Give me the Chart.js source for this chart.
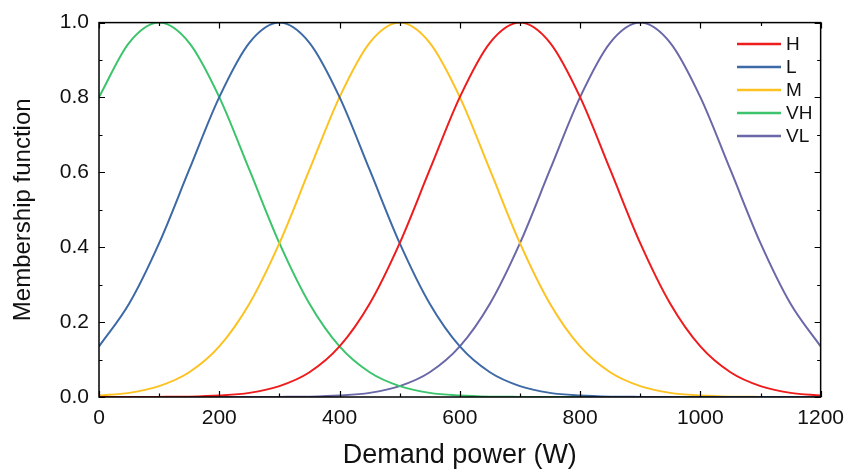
<!DOCTYPE html>
<html>
<head>
<meta charset="utf-8">
<script src="https://cdn.jsdelivr.net/npm/chart.js@4/dist/chart.umd.min.js"></script>
<style>
  html, body { margin: 0; padding: 0; background: #fff; }
  #wrap { width: 853px; height: 472px; }
</style>
</head>
<body>
<div id="wrap"><canvas id="c" width="853" height="472"></canvas></div>
<script>
// demand power (W), sampled every 50 W
const power = [0, 50, 100, 150, 200, 250, 300, 350, 400, 450, 500, 550, 600,
               650, 700, 750, 800, 850, 900, 950, 1000, 1050, 1100, 1150, 1200];

// membership values
const H  = [0, 0.0001, 0.0003, 0.001, 0.004, 0.011, 0.029, 0.066, 0.135, 0.249, 0.411, 0.607, 0.801,
            0.946, 1, 0.946, 0.801, 0.607, 0.411, 0.249, 0.135, 0.066, 0.029, 0.011, 0.004];
const L  = [0.135, 0.249, 0.411, 0.607, 0.801, 0.946, 1, 0.946, 0.801, 0.607, 0.411, 0.249, 0.135,
            0.066, 0.029, 0.011, 0.004, 0.001, 0.0003, 0.0001, 0, 0, 0, 0, 0];
const M  = [0.004, 0.011, 0.029, 0.066, 0.135, 0.249, 0.411, 0.607, 0.801, 0.946, 1, 0.946, 0.801,
            0.607, 0.411, 0.249, 0.135, 0.066, 0.029, 0.011, 0.004, 0.001, 0.0003, 0.0001, 0];
const VH = [0.801, 0.946, 1, 0.946, 0.801, 0.607, 0.411, 0.249, 0.135, 0.066, 0.029, 0.011, 0.004,
            0.001, 0.0003, 0.0001, 0, 0, 0, 0, 0, 0, 0, 0, 0];
const VL = [0, 0, 0, 0, 0, 0, 0.0003, 0.001, 0.004, 0.011, 0.029, 0.066, 0.135,
            0.249, 0.411, 0.607, 0.801, 0.946, 1, 0.946, 0.801, 0.607, 0.411, 0.249, 0.135];

const xTicks = [0, 200, 400, 600, 800, 1000, 1200];
const yTicks = [0, 0.2, 0.4, 0.6, 0.8, 1.0];

const seriesNames = ['H', 'L', 'M', 'VH', 'VL'];
const seriesData = [H, L, M, VH, VL];
const seriesColors = ['#ee1c1c', '#3d6aa6', '#fdc221', '#3cc46c', '#6a68a8'];

const FONT = '"Liberation Sans", Arial, sans-serif';

function pts(vals) {
    return power.map((p, i) => ({ x: p, y: vals[i] }));
}

// frame, inward major/minor ticks and the legend, Origin style
const framePlugin = {
    id: 'frame',
    afterDatasetsDraw(chart) {
        const ctx = chart.ctx;
        const a = chart.chartArea;
        const xs = chart.scales.x, ys = chart.scales.y;
        ctx.save();
        ctx.strokeStyle = '#000';
        ctx.lineWidth = 1.5;
        ctx.strokeRect(a.left, a.top, a.right - a.left, a.bottom - a.top);

        ctx.lineWidth = 1.2;
        ctx.beginPath();
        for (let v = 0; v <= 1200; v += 100) {
            const px = Math.round(xs.getPixelForValue(v)) + 0.5;
            const len = v % 200 === 0 ? 6 : 3.5;
            ctx.moveTo(px, a.bottom); ctx.lineTo(px, a.bottom - len);
            ctx.moveTo(px, a.top); ctx.lineTo(px, a.top + len);
        }
        for (let i = 0; i <= 10; i++) {
            const v = i * 0.1;
            const py = Math.round(ys.getPixelForValue(v)) + 0.5;
            const len = i % 2 === 0 ? 6 : 3.5;
            ctx.moveTo(a.left, py); ctx.lineTo(a.left + len, py);
            ctx.moveTo(a.right, py); ctx.lineTo(a.right - len, py);
        }
        ctx.stroke();

        // legend
        ctx.font = '19px ' + FONT;
        ctx.textBaseline = 'middle';
        ctx.fillStyle = '#111';
        chart.data.datasets.forEach((ds, i) => {
            const y = 44 + i * 23;
            ctx.strokeStyle = ds.borderColor;
            ctx.lineWidth = 2.5;
            ctx.beginPath();
            ctx.moveTo(737, y); ctx.lineTo(781, y);
            ctx.stroke();
            ctx.fillText(ds.label, 786, y + 1);
        });
        ctx.restore();
    }
};

new Chart(document.getElementById('c'), {
    type: 'line',
    data: {
        datasets: seriesNames.map((name, i) => ({
            label: name,
            data: pts(seriesData[i]),
            borderColor: seriesColors[i],
            backgroundColor: seriesColors[i],
            borderWidth: 2,
            pointRadius: 0,
            cubicInterpolationMode: 'monotone',
            fill: false
        }))
    },
    options: {
        responsive: false,
        animation: false,
        layout: { padding: { top: 19, right: 27, left: 0, bottom: 0 } },
        plugins: {
            legend: { display: false },
            tooltip: { enabled: false }
        },
        scales: {
            x: {
                type: 'linear',
                min: 0,
                max: 1200,
                afterBuildTicks(s) { s.ticks = xTicks.map(v => ({ value: v })); },
                afterFit(s) { s.height = 75; },
                grid: { display: false, drawTicks: false },
                border: { display: false },
                ticks: {
                    padding: 9,
                    color: '#111',
                    font: { family: FONT, size: 21 },
                    maxRotation: 0,
                    callback: v => String(v)
                },
                title: {
                    display: true,
                    text: 'Demand power (W)',
                    color: '#111',
                    font: { family: FONT, size: 27 },
                    padding: { top: 6, bottom: 0 }
                }
            },
            y: {
                type: 'linear',
                min: 0,
                max: 1,
                afterBuildTicks(s) { s.ticks = yTicks.map(v => ({ value: v })); },
                afterFit(s) { s.width = 99; },
                grid: { display: false, drawTicks: false },
                border: { display: false },
                ticks: {
                    padding: 10,
                    color: '#111',
                    font: { family: FONT, size: 21 },
                    callback: v => v.toFixed(1)
                },
                title: {
                    display: true,
                    text: 'Membership function',
                    color: '#111',
                    font: { family: FONT, size: 24 },
                    padding: { top: 9, bottom: 0 }
                }
            }
        }
    },
    plugins: [framePlugin]
});
</script>
</body>
</html>
